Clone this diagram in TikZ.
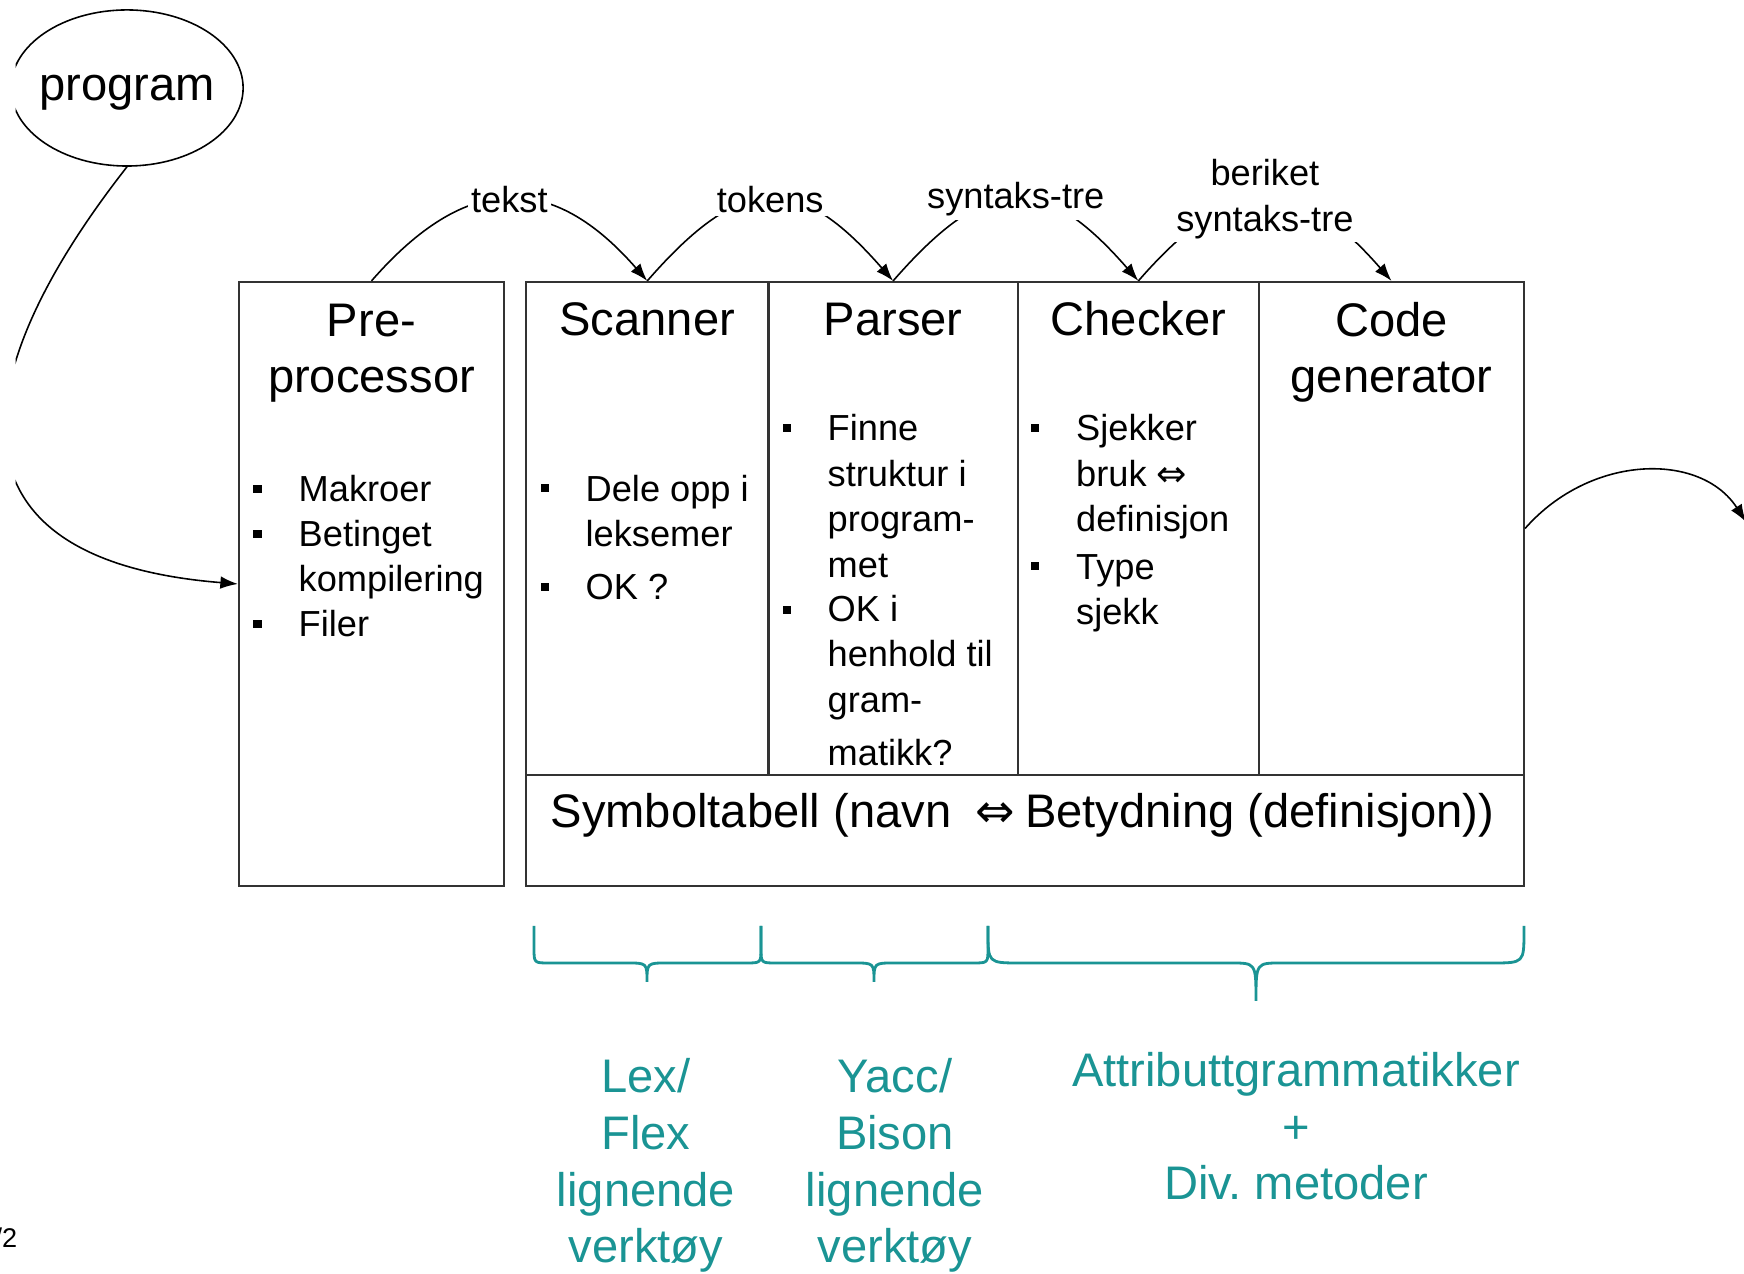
\documentclass[tikz,border=0pt]{standalone}
\usepackage{fontspec}
\setmainfont{Liberation Sans}
\newfontfamily\arrowfont{DejaVu Sans}
\usetikzlibrary{arrows.meta,positioning,fit,shapes.geometric}

\definecolor{tealc}{RGB}{26,148,148}
\newcommand{\pxscale}{0.01}
\newcommand{\headfont}{\fontsize{13.4pt}{16.2pt}\selectfont}
\newcommand{\itemfont}{\fontsize{10.3pt}{12.95pt}\selectfont}
\newcommand{\dblarrow}{{\arrowfont ⇔}}

\tikzstyle{stage}=[draw=black!80,line width=0.6pt,inner sep=0pt]
\tikzstyle{head}=[font=\headfont,align=center,anchor=base,inner sep=0pt]
\tikzstyle{item}=[font=\itemfont,align=left,anchor=base west,inner sep=0pt]
\tikzstyle{bullet}=[fill,minimum size=0.08cm,inner sep=0pt]
\tikzstyle{flow}=[draw,line width=0.45pt,-{Latex[length=5pt,width=3.6pt]}]
\tikzstyle{passed}=[font=\itemfont,fill=white,align=center,inner sep=1pt]
\tikzstyle{curly}=[draw=tealc,line width=0.8pt]
\tikzstyle{tool}=[font=\headfont,text=tealc,align=center,anchor=base,inner sep=0pt]

\begin{document}
\begin{tikzpicture}[x=\pxscale cm, y=-\pxscale cm]
    \useasboundingbox (0,0) rectangle (1744,1274);
    % First we draw the phase boxes
    \node[stage, fit={(239,282) (504,886)}] (pre) {};
    \foreach \name/\xa/\xb in {scan/526/768.5, pars/768.5/1017.7, chk/1017.7/1259, code/1259/1524}
        \node[stage, fit={(\xa,282) (\xb,775)}] (\name) {};
    \node[stage, fit={(526,775) (1524,886)}] (symtab) {};

    % Headings of the phases (base is the last line)
    \foreach \name/\y/\txt in {pre/393/{Pre-\\processor}, scan/336/Scanner, pars/336/Parser, chk/336/Checker, code/393/{Code\\generator}}
        \node[head] (h\name) at (\name.north |- 0,\y) {\txt};

    % Bullet items: x, last baseline, bullet y, text
    \foreach \x/\y/\dot/\txt [count=\i] in {298/502/489/Makroer, 298/592/534/{Betinget\\kompilering}, 298/637/624/Filer,
        585/547/488.5/{Dele opp i\\leksemer}, 585/600/587/{OK ?},
        827/577.5/428/{Finne\\struktur i\\program-\\met}, 827/766/610/{OK i\\henhold til\\gram-\\[2.3pt]matikk?},
        1075.5/532/428/{Sjekker\\bruk \dblarrow\\definisjon}, 1075.5/625/566.5/{Type\\sjekk}}
    {
        \node[item] (item\i) at (\x,\y) {\txt};
        \node[bullet] (dot\i) at (\x-40.5,\dot) {};
    }

    \node[font=\headfont, anchor=base west, inner sep=0pt] (symtext) at (550,828) {Symboltabell (navn\hspace{3pt} \dblarrow\hspace{3pt}Betydning (definisjon))};

    % Connect phases with curved arrows and labels
    \foreach \source/\dest/\txt in {pre/scan/tekst, scan/pars/tokens, pars/chk/syntaks-tre, chk/code/{beriket\\syntaks-tre}}
        \path[flow] (\source.north) .. controls +(95,-109) and +(-95,-109) .. (\dest.north) node[passed, pos=0.5] (l\source) {\txt};

    % Program in and code out
    \begin{scope}
        \clip (15.6,0) rectangle (1744,1274);
        \node[draw, ellipse, line width=0.45pt, minimum height=1.56cm, inner xsep=-1.6pt, inner ysep=0pt, text depth=0pt, font=\headfont] (program) at (127,88) {program};
        \path[flow] (program.south) .. controls (-40,380) and (-60,560) .. (pre.west);
    \end{scope}
    \coordinate (out) at (1746,522);
    \path[flow] (code.east) .. controls +(66,-75) and +(-45,-70) .. (out);

    % Braces for the tools
    \foreach \xa/\xm/\xb/\r/\w/\tip in {534/647/761/15/20/982, 761/874/988/15/20/982, 988/1256/1524/32/25/1001}
        \path[curly] (\xa,926) -- (\xa,963-\r) .. controls (\xa,963) .. (\xa+\r,963) -- (\xm-\w,963)
            .. controls (\xm,963) .. (\xm,\tip) .. controls (\xm,963) .. (\xm+\w,963) -- (\xb-\r,963)
            .. controls (\xb,963) .. (\xb,963-\r) -- (\xb,926);

    \node[tool] (lex) at (646,1263) {Lex/\\Flex\\lignende\\verktøy};
    \node[tool] (yacc) at (895,1263) {Yacc/\\Bison\\lignende\\verktøy};
    \node[tool] (attr) at (1296,1200) {Attributtgrammatikker\\+\\Div.\ metoder};
    \node[font=\fontsize{7.7pt}{9pt}\selectfont, anchor=base east, inner sep=0pt] (pagenr) at (18,1248) {/2};
\end{tikzpicture}
\end{document}
